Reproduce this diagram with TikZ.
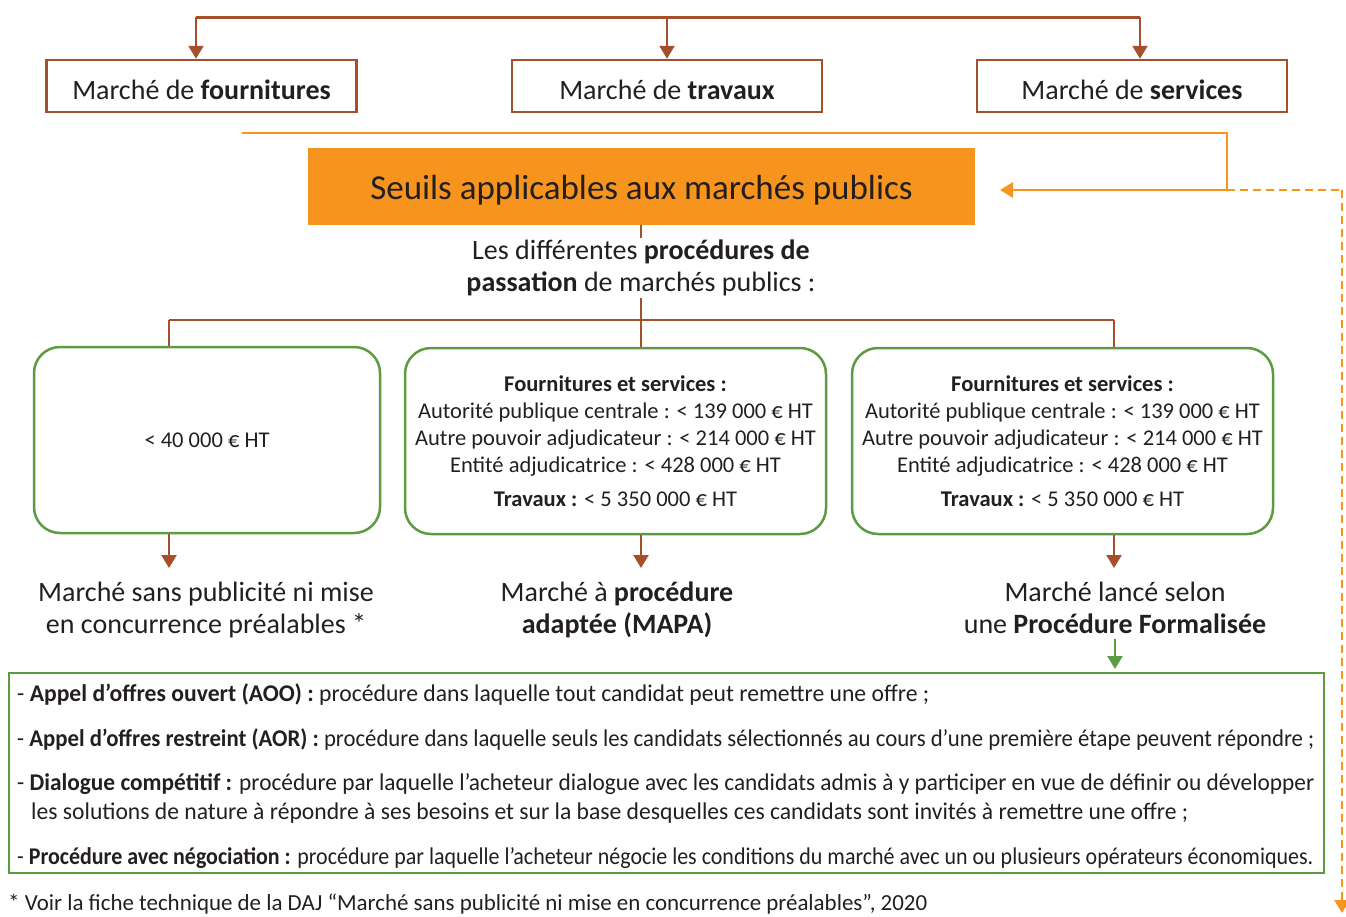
\documentclass[tikz,border=0pt]{standalone}
\usepackage{fontspec}
\usepackage{graphicx}
\setmainfont{Carlito}
\usetikzlibrary{arrows.meta}
\definecolor{brn}{RGB}{163,80,43}
\definecolor{org}{RGB}{247,148,29}
\definecolor{grn}{RGB}{92,155,66}
\definecolor{txt}{RGB}{35,31,32}
\newcommand{\fitw}[2]{\resizebox{#1}{\height}{#2}}
\begin{document}
\begin{tikzpicture}[x=1pt,y=-1pt,
  every node/.style={text=txt, inner sep=0pt},
  typebox/.style={draw=brn, line width=2.5pt, minimum width=310pt, minimum height=52pt, text height=26pt, text depth=0pt, font=\fontsize{28}{32}\selectfont},
  seuilbox/.style={fill=org, minimum width=667pt, minimum height=77pt, text height=30pt, text depth=5pt, font=\fontsize{35}{40}\selectfont},
  roundbox/.style={draw=grn, line width=2.5pt, rounded corners=26pt, minimum height=186pt, align=center, font=\fontsize{22.5}{27}\selectfont},
  outtext/.style={align=center, font=\fontsize{28}{32}\selectfont},
  listbox/.style={draw=grn, line width=2.5pt, minimum width=1315pt, minimum height=200pt},
  listline/.style={anchor=base west, font=\fontsize{24}{28}\selectfont},
  brnline/.style={draw=brn, line width=2.5pt},
  brnarrow/.style={draw=brn, line width=2.5pt, -{Triangle[width=15pt,length=13pt]}},
  orgline/.style={draw=org, line width=2.8pt},
  orgdash/.style={draw=org, line width=2.5pt, dash pattern=on 8pt off 5pt},
  grnarrow/.style={draw=grn, line width=2.5pt, -{Triangle[width=15pt,length=13pt]}}
]
\useasboundingbox (0,0) rectangle (1346,916);

% top row
\node[typebox] (fourn) at (201.5,86) {Marché de \textbf{fournitures}};
\node[typebox] (trav) at (667,86) {Marché de \textbf{travaux}};
\node[typebox] (serv) at (1132,86) {Marché de \textbf{services}};
\coordinate (tl) at (196,17);
\coordinate (tc) at (667,17);
\coordinate (tr) at (1140,17);
\draw[brnline, line width=3pt] (tl) -- (tr);
\draw[brnarrow] (tl) -- (tl |- fourn.north);
\draw[brnarrow] (tc) -- (trav.north);
\draw[brnarrow] (tr) -- (tr |- serv.north);

% orange box and connectors
\node[seuilbox] (seuils) at (641.5,186.5) {Seuils applicables aux marchés publics};
\coordinate (ostart) at (242,133);
\coordinate (oturn) at (1227,190);
\coordinate (otip) at (1000,190);
\coordinate (dturn) at (1342,190);
\coordinate (dend) at (1342,913);
\draw[orgline] (ostart) -| (oturn);
\draw[orgline, -{Triangle[width=15pt,length=13pt]}] (oturn) -- (otip);
\draw[orgdash] (oturn) -- (dturn);
\draw[orgdash, -{Triangle[width=15pt,length=13pt]}] (dturn) -- (dend);

% branch to procedures
\coordinate (bc) at (641,320);
\coordinate (bl) at (169,320);
\coordinate (br) at (1114,320);
\draw[brnline] (seuils.south -| bc) -- (bc);
\draw[brnline] (bl) -- (br);

\node[outtext, fill=white, inner sep=2pt] (proc) at (641,268) {Les différentes \textbf{procédures de}\\\textbf{passation} de marchés publics :};

% green rounded boxes
\node[roundbox, minimum width=346pt] (b1) at (207,440) {< 40 000 € HT};
\node[roundbox, minimum width=421pt] (b2) at (615.5,441) {\textbf{Fournitures et services :}\\Autorité publique centrale : < 139 000 € HT\\Autre pouvoir adjudicateur : < 214 000 € HT\\Entité adjudicatrice : < 428 000 € HT\\[7pt]\textbf{Travaux :} < 5 350 000 € HT};
\node[roundbox, minimum width=421pt] (b3) at (1062.5,441) {\textbf{Fournitures et services :}\\Autorité publique centrale : < 139 000 € HT\\Autre pouvoir adjudicateur : < 214 000 € HT\\Entité adjudicatrice : < 428 000 € HT\\[7pt]\textbf{Travaux :} < 5 350 000 € HT};
\draw[brnline] (bl) -- (bl |- b1.north);
\draw[brnline] (bc) -- (bc |- b2.north);
\draw[brnline] (br) -- (br |- b3.north);

% outcomes
\node[outtext] (o1) at (206,610) {Marché sans publicité ni mise\\en concurrence préalables *};
\node[outtext] (o2) at (617,610) {Marché à \textbf{procédure}\\\textbf{adaptée (MAPA)}};
\node[outtext] (o3) at (1115,608) {Marché lancé selon\\une \textbf{Procédure Formalisée}};
\coordinate (a1) at (169,568);
\coordinate (a2) at (641,568);
\coordinate (a3) at (1114,568);
\draw[brnarrow] (a1 |- b1.south) -- (a1);
\draw[brnarrow] (a2 |- b2.south) -- (a2);
\draw[brnarrow] (a3 |- b3.south) -- (a3);

% list box
\node[listbox] (list) at (666.5,773) {};
\coordinate (g1) at (1115,639);
\coordinate (g2) at (1115,669);
\draw[grnarrow] (g1) -- (g2);

\node[listline] (l1) at (17,701) {\fitw{912pt}{- \textbf{Appel d’offres ouvert (AOO) :} procédure dans laquelle tout candidat peut remettre une offre ;}};
\node[listline] (l2) at (17,746) {\fitw{1297pt}{- \textbf{Appel d’offres restreint (AOR) :} procédure dans laquelle seuls les candidats sélectionnés au cours d’une première étape peuvent répondre ;}};
\node[listline] (l3) at (17,790) {\fitw{1297pt}{- \textbf{Dialogue compétitif :} procédure par laquelle l’acheteur dialogue avec les candidats admis à y participer en vue de définir ou développer}};
\node[listline] (l4) at (31,819) {\fitw{1157pt}{les solutions de nature à répondre à ses besoins et sur la base desquelles ces candidats sont invités à remettre une offre ;}};
\node[listline] (l5) at (17,864) {\fitw{1296pt}{- \textbf{Procédure avec négociation :} procédure par laquelle l’acheteur négocie les conditions du marché avec un ou plusieurs opérateurs économiques.}};

\node[listline, font=\fontsize{23}{27}\selectfont] (foot) at (8,910) {\fitw{919pt}{* Voir la fiche technique de la DAJ “Marché sans publicité ni mise en concurrence préalables”, 2020}};
\end{tikzpicture}
\end{document}
